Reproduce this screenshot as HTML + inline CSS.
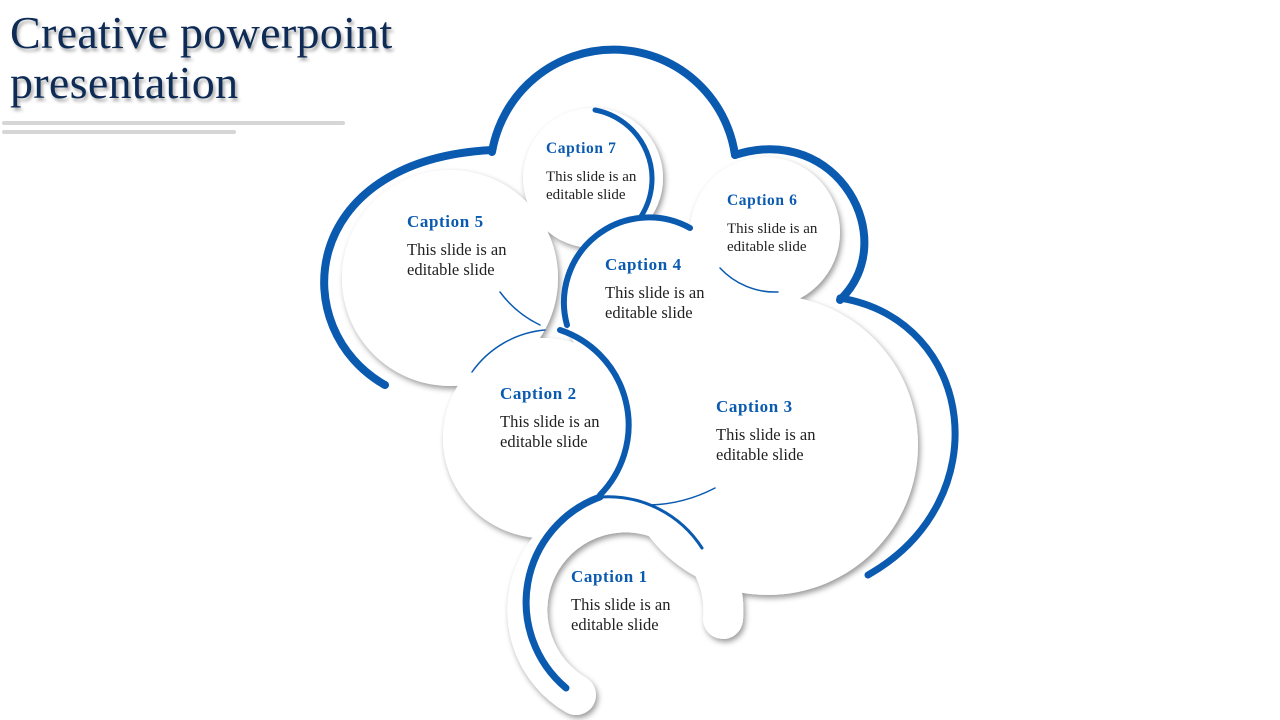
<!DOCTYPE html>
<html><head><meta charset="utf-8"><style>
body{margin:0;width:1280px;height:720px;background:#fff;overflow:hidden;position:relative;font-family:"Liberation Serif",serif}
.t{position:absolute;left:10px;top:8px;font-size:46px;line-height:50px;letter-spacing:0.3px;color:#0d2b55;text-shadow:2px 3px 3px rgba(0,0,0,.35)}
.l{position:absolute;height:4px;background:#d6d6d6;border-radius:2px}
.c{position:absolute;font-size:16.5px;line-height:20px;color:#222}
.c b{display:block;color:#0a5ab0;font-size:17px;letter-spacing:0.6px;margin-bottom:8px}
svg{position:absolute;left:0;top:0}
</style></head><body>
<div class="t">Creative powerpoint<br>presentation</div>
<div class="l" style="left:2px;top:121px;width:343px"></div>
<div class="l" style="left:2px;top:130px;width:234px"></div>
<svg width="1280" height="720">
<defs><filter id="s" x="-20%" y="-20%" width="140%" height="140%"><feDropShadow dx="2" dy="3" stdDeviation="3" flood-color="#000" flood-opacity="0.4"/></filter></defs>
<g fill="#fff" filter="url(#s)">
<circle cx="768" cy="445" r="150"/>
<circle cx="450" cy="278" r="108"/>
<circle cx="593" cy="178" r="70"/>
<circle cx="765" cy="232" r="75"/>
<circle cx="650" cy="305" r="85"/>
<circle cx="543" cy="438" r="100"/>
<path d="M576,695 A98,98 0 1 1 723,619" fill="none" stroke="#fff" stroke-width="40" stroke-linecap="round"/>
</g>
<g fill="none" stroke="#0a5ab0" stroke-linecap="round">
<path d="M385,385 C287,330 297,160 492,150" stroke-width="8"/>
<path d="M492,152 A123,123 0 0 1 735,155" stroke-width="8"/>
<path d="M735,155 C838,122 902,240 840,300" stroke-width="8"/>
<path d="M840,298 C975,320 1000,500 868,575" stroke-width="7"/>
<path d="M595,110 A70,70 0 0 1 640,218" stroke-width="5"/>
<path d="M567,325 A85,85 0 0 1 690,228" stroke-width="6"/>
<path d="M560,330 A100,100 0 0 1 600,495" stroke-width="6"/>
<path d="M566,688 A112,112 0 0 1 600,497" stroke-width="7"/>
<path d="M600,497 A112,112 0 0 1 702,548" stroke-width="3"/>
<path d="M720,268 A75,75 0 0 0 778,292" stroke-width="1.5"/>
<path d="M472,372 A100,100 0 0 1 545,330" stroke-width="1.5"/>
<path d="M650,505 A150,150 0 0 0 715,488" stroke-width="1.5"/>
<path d="M500,292 A108,108 0 0 0 540,325" stroke-width="1.5"/>
</g>
</svg>
<div class="c" style="left:546px;top:140px;font-size:15px;line-height:18px"><b style="font-size:15.5px;margin-bottom:10px">Caption 7</b>This slide is an<br>editable slide</div>
<div class="c" style="left:727px;top:192px;font-size:15px;line-height:18px"><b style="font-size:15.5px;margin-bottom:10px">Caption 6</b>This slide is an<br>editable slide</div>
<div class="c" style="left:407px;top:212px"><b>Caption 5</b>This slide is an<br>editable slide</div>
<div class="c" style="left:605px;top:255px"><b>Caption 4</b>This slide is an<br>editable slide</div>
<div class="c" style="left:500px;top:384px"><b>Caption 2</b>This slide is an<br>editable slide</div>
<div class="c" style="left:716px;top:397px"><b>Caption 3</b>This slide is an<br>editable slide</div>
<div class="c" style="left:571px;top:567px"><b>Caption 1</b>This slide is an<br>editable slide</div>
</body></html>
